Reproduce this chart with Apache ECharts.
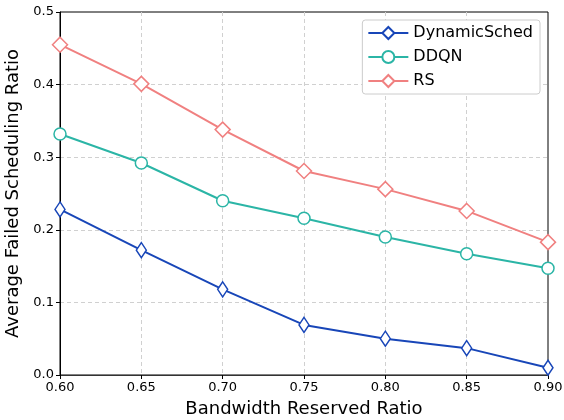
<!DOCTYPE html>
<html><head><meta charset="utf-8">
<script src="https://cdn.jsdelivr.net/npm/echarts@6/dist/echarts.min.js"></script>
<style>html,body{margin:0;padding:0;background:#fff}#c{width:564px;height:420px}</style>
</head><body><div id="c"></div>
<script>
const xValues = [0.60, 0.65, 0.70, 0.75, 0.80, 0.85, 0.90];
const dynamicSched = [0.228, 0.172, 0.118, 0.069, 0.050, 0.037, 0.010];
const ddqn = [0.332, 0.292, 0.240, 0.216, 0.190, 0.167, 0.147];
const rs = [0.455, 0.401, 0.338, 0.281, 0.256, 0.226, 0.183];
const seriesNames = ['DynamicSched', 'DDQN', 'RS'];

const font = 'DejaVu Sans';
const chart = echarts.init(document.getElementById('c'));
function mk(name, data, color, symbol, size) {
  return {
    name, type: 'line', data: xValues.map((x, i) => [x, data[i]]),
    symbol, symbolSize: size, showAllSymbol: true,
    lineStyle: { color, width: 2 },
    itemStyle: { color: '#fff', borderColor: color, borderWidth: 1.5 },
    emphasis: { disabled: true }
  };
}
const split = { show: true, showMinLine: false, showMaxLine: false, lineStyle: { color: '#d0d0d0', type: [4, 3] } };
chart.setOption({
  animation: false,
  textStyle: { fontFamily: font },
  grid: { left: 60, right: 16, top: 12, bottom: 45, outerBoundsMode: 'none', containLabel: false,
          show: true, borderColor: '#000', borderWidth: 1 },
  legend: {
    right: 24, top: 20, orient: 'vertical', itemGap: 8,
    itemWidth: 40, itemHeight: 15,
    borderColor: '#ccc', borderWidth: 1, borderRadius: 3, padding: [5, 7, 5, 5],
    backgroundColor: '#fff',
    textStyle: { fontFamily: font, fontSize: 16, color: '#000' },
    data: seriesNames
  },
  xAxis: {
    type: 'value', min: 0.6, max: 0.9, interval: 0.05,
    name: 'Bandwidth Reserved Ratio', nameLocation: 'middle', nameGap: 25,
    nameTextStyle: { fontFamily: font, fontSize: 18, color: '#000' },
    axisLine: { show: true, lineStyle: { color: '#333' } },
    axisTick: { show: true, inside: false, length: 4, lineStyle: { color: '#000' } },
    axisLabel: { fontFamily: font, fontSize: 13, color: '#000', margin: 6, formatter: v => v.toFixed(2) },
    splitLine: split
  },
  yAxis: {
    type: 'value', min: 0, max: 0.5, interval: 0.1,
    name: 'Average Failed Scheduling Ratio', nameLocation: 'middle', nameGap: 34,
    nameTextStyle: { fontFamily: font, fontSize: 18, color: '#000' },
    axisLine: { show: true, lineStyle: { color: '#000' } },
    axisTick: { show: true, inside: false, length: 4, lineStyle: { color: '#000' } },
    axisLabel: { fontFamily: font, fontSize: 13, color: '#000', margin: 6, formatter: v => v.toFixed(1) },
    splitLine: split
  },
  series: [
    mk(seriesNames[0], dynamicSched, '#1846b8', 'diamond', [10, 15]),
    mk(seriesNames[1], ddqn, '#2bb5a6', 'circle', 12),
    mk(seriesNames[2], rs, '#f08080', 'diamond', [15, 15])
  ]
});
</script></body></html>
